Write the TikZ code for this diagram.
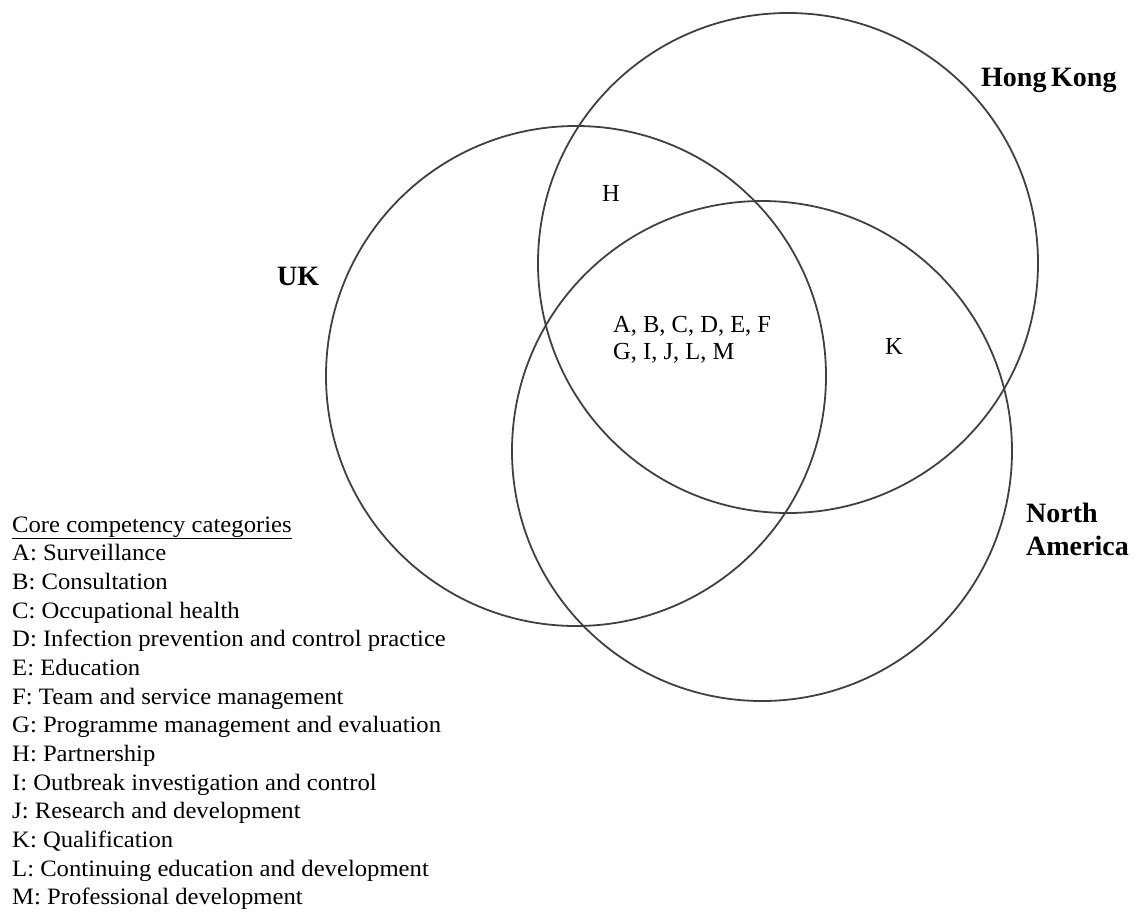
\documentclass[tikz,border=0pt]{standalone}
\usepackage{fontspec}
\setmainfont{Liberation Serif}
\newfontfamily\legendfont[FakeStretch=1.05]{Liberation Serif}
\begin{document}
\begin{tikzpicture}[x=1pt,y=-1pt,
  setcircle/.style={draw=black!75,line width=1.8pt},
  regionlabel/.style={font=\fontsize{28}{33}\selectfont\bfseries,anchor=base west,inner sep=0pt},
  itemlabel/.style={font=\fontsize{24.5}{28}\selectfont,anchor=base west,inner sep=0pt},
  legendline/.style={font=\legendfont\fontsize{23.5}{28}\selectfont,anchor=base west,inner sep=0pt}]
\useasboundingbox (0,0) rectangle (1136,911);
% the three competency sets
\draw[setcircle] (576,376) circle[radius=250];
\draw[setcircle] (788,263) circle[radius=250];
\draw[setcircle] (762,451) circle[radius=250];
% set names
\node[regionlabel] (uk) at (277,285) {UK};
\node[regionlabel] (hk) at (981,86) {Hong\,Kong};
\node[regionlabel] (na1) at (1026,522) {North};
\node[regionlabel] (na2) at (1026,555) {America};
% categories in the overlaps
\node[itemlabel] (h) at (602,201) {H};
\node[itemlabel] (core1) at (613,332) {A, B, C, D, E, F};
\node[itemlabel] (core2) at (613,359) {G, I, J, L, M};
\node[itemlabel] (k) at (885,354) {K};
% legend
\node[legendline] (leg0) at (12,532) {\underline{Core competency categories}};
\foreach \t [count=\i] in {
  A: Surveillance,
  B: Consultation,
  C: Occupational health,
  D: Infection prevention and control practice,
  E: Education,
  F: Team and service management,
  G: Programme management and evaluation,
  H: Partnership,
  I: Outbreak investigation and control,
  J: Research and development,
  K: Qualification,
  L: Continuing education and development,
  M: Professional development}
  \node[legendline] (leg\i) at (12,{532+28.67*\i}) {\t};
\end{tikzpicture}
\end{document}
